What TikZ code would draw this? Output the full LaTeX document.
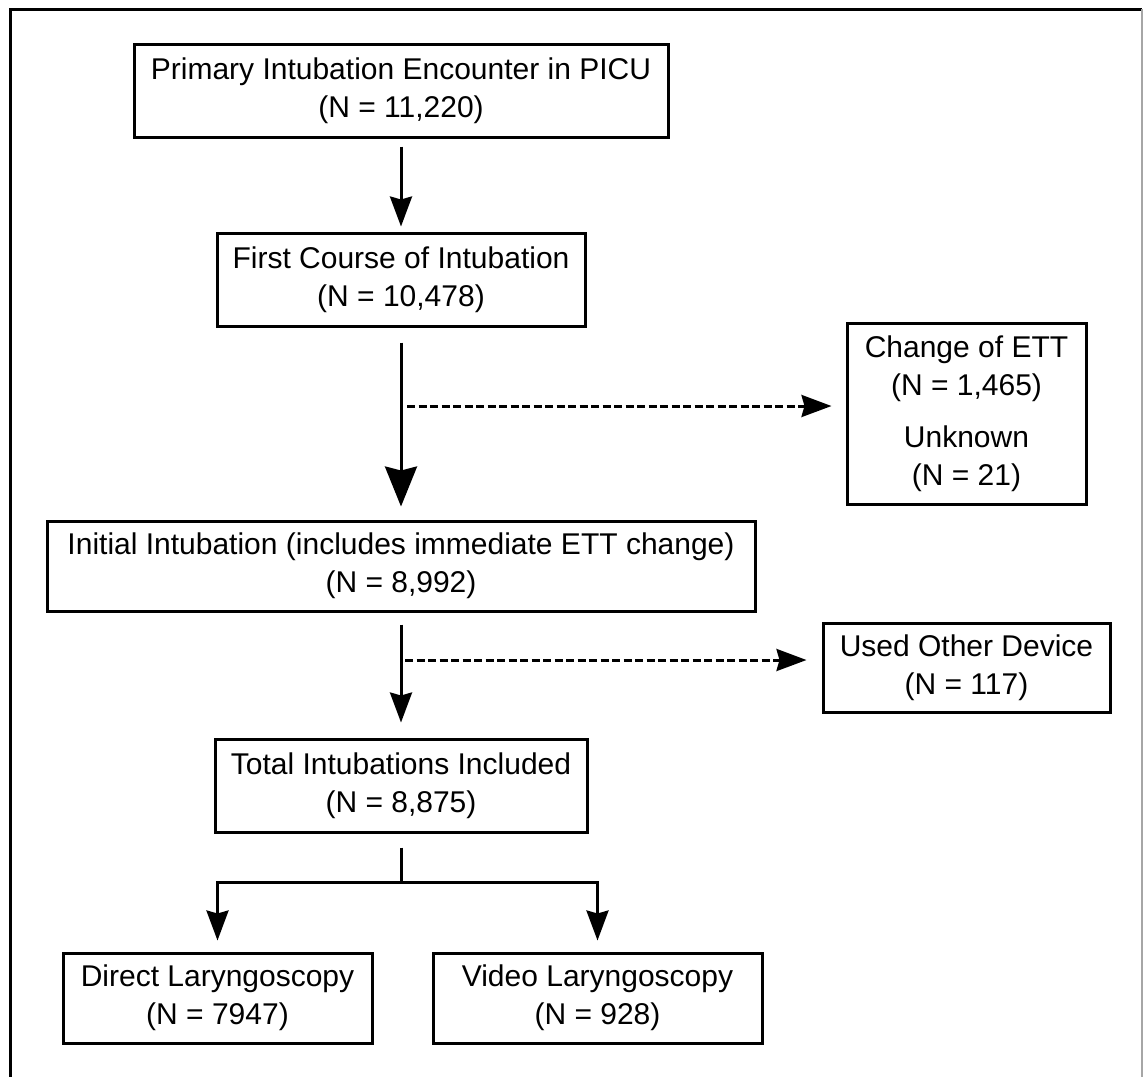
\documentclass[tikz,border=0pt]{standalone}
\usepackage{fontspec}
\setmainfont{Liberation Sans}
\usetikzlibrary{arrows.meta,positioning}

\begin{document}
\begin{tikzpicture}[
    x=1pt, y=-1pt,
    box/.style={rectangle, draw, line width=3pt, align=center, inner sep=0pt, font=\fontsize{30}{38}\selectfont},
    arrow/.style={-{Stealth[length=30pt, width=22pt, inset=3pt]}, line width=3pt},
    bigarrow/.style={-{Stealth[length=40pt, width=32pt, inset=4pt]}, line width=3pt},
    dasharrow/.style={arrow, dash pattern=on 8pt off 3.5pt}
]
\useasboundingbox (0,0) rectangle (1144,1077);

% Outer frame
\draw[line width=3pt] (10,1077) -- (10,9) -- (1142,9);
\draw[line width=1.5pt, black!35] (1142,9) -- (1142,1077);

% Main column
\node[box, minimum width=534pt, minimum height=93pt] (encounter) at (401,90.5) {Primary Intubation Encounter in PICU\\(N = 11,220)};
\node[box, minimum width=368pt, minimum height=93pt, below=93pt of encounter] (course) {First Course of Intubation\\(N = 10,478)};
\node[box, minimum width=708pt, minimum height=90pt, below=192pt of course] (initial) {Initial Intubation (includes immediate ETT change)\\(N = 8,992)};
\node[box, minimum width=372pt, minimum height=93pt, below=125pt of initial] (total) {Total Intubations Included\\(N = 8,875)};

% Exclusions
\node[box, minimum width=239pt, minimum height=181pt] (ettchange) at (966.5,413.5) {Change of ETT\\(N = 1,465)\\[14pt]Unknown\\(N = 21)};
\node[box, minimum width=287pt, minimum height=89pt] (otherdev) at (966.5,667.5) {Used Other Device\\(N = 117)};

% Laryngoscopy groups
\node[box, minimum width=309pt, minimum height=90pt] (direct) at (217.5,998) {Direct Laryngoscopy\\(N = 7947)};
\node[box, minimum width=329pt, minimum height=90pt] (video) at (597.5,998) {Video Laryngoscopy\\(N = 928)};

% Branch points
\coordinate (split1) at (401,406);
\coordinate (split2) at (401,660);
\coordinate (fork) at (401,882);

% Arrows
\draw[arrow, shorten <=8pt, shorten >=5pt] (encounter) -- (course);
\draw[bigarrow, shorten <=15pt, shorten >=13pt] (course) -- (initial);
\draw[arrow, shorten <=12pt, shorten >=15pt] (initial) -- (total);
\draw[dasharrow, shorten <=6pt, shorten >=14pt] (split1) -- (split1 -| ettchange.west);
\draw[dasharrow, shorten <=4pt, shorten >=15pt] (split2) -- (split2 -| otherdev.west);
\draw[line width=3pt, shorten <=14pt] (total) -- (fork);
\draw[arrow, shorten >=11pt] (fork) -| (direct);
\draw[arrow, shorten >=11pt] (fork) -| (video);

\end{tikzpicture}
\end{document}
